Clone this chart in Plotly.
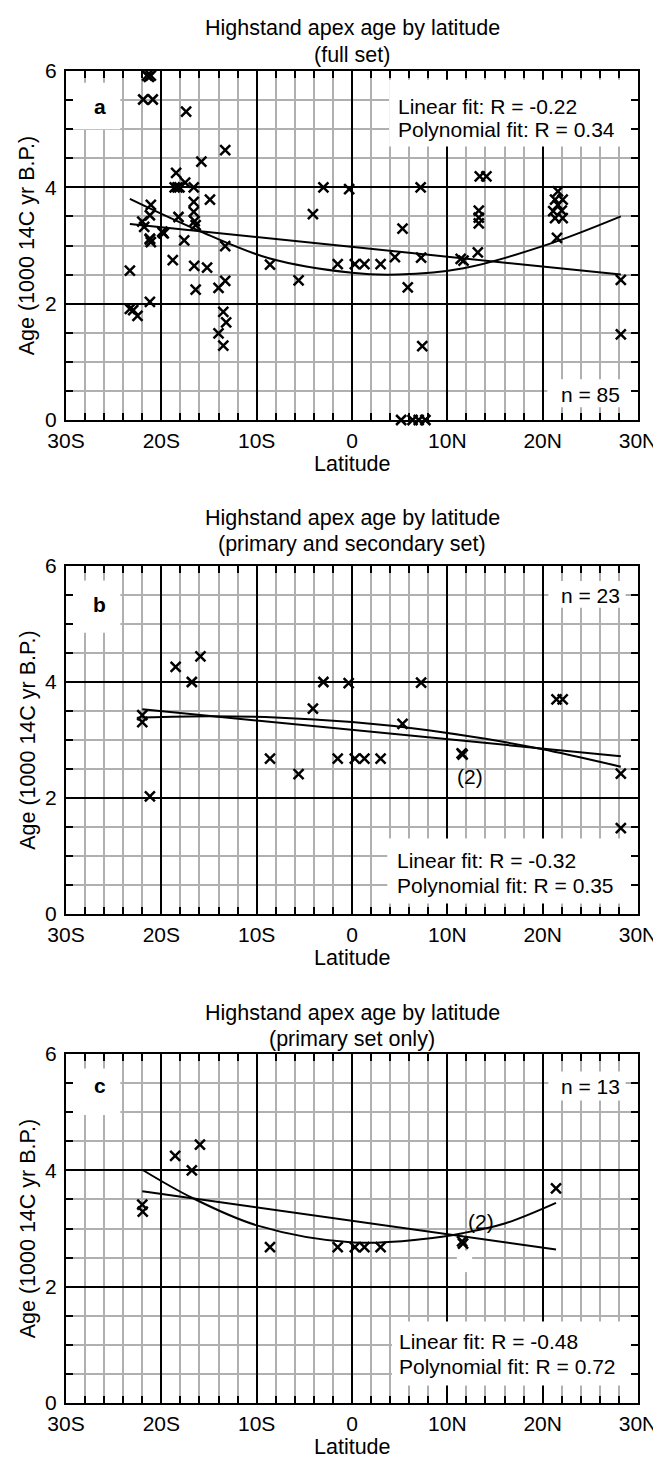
import plotly.graph_objects as go

# ---------------- data ----------------
lat_a = [-21.5, -21.1, -21.3,
         -21.9, -20.9,
         -17.4, -13.3, -15.8, -18.45,
         -18.6, -18.1, -18.3, -17.5, -16.6,
         -14.9,
         -16.6, -16.6, -16.5, -16.4,
         -21.1, -21.2, -22.0, -21.8, -21.2, -21.1, -21.2,
         -19.9, -19.75, -19.85,
         -18.2, -17.6, -13.3, -18.8, -23.3,
         -16.55, -15.2, -16.4, -13.3, -14.0, -21.2,
         -23.3, -22.95, -22.5, -13.5, -13.2, -14.0, -13.5,
         -8.6, -5.6, -4.1, -3.0, -0.3,
         -1.5, 0.3, 1.3, 3.0,
         4.5, 5.3, 5.85, 7.2, 7.25, 7.37,
         5.15, 6.35, 7.0, 7.7,
         11.4, 11.7, 13.2, 13.3, 13.3, 13.3, 13.4, 14.1,
         21.6, 21.3, 22.1, 21.6, 21.1, 22.0, 21.3, 22.1, 21.5,
         28.2, 28.2]
age_a = [5.92, 5.92, 5.90,
         5.51, 5.51,
         5.30, 4.64, 4.44, 4.25,
         4.00, 4.00, 4.00, 4.08, 4.00,
         3.79,
         3.75, 3.58, 3.42, 3.35,
         3.70, 3.52, 3.41, 3.32, 3.12, 3.06, 3.10,
         3.24, 3.21, 3.22,
         3.49, 3.09, 2.99, 2.75, 2.57,
         2.65, 2.62, 2.24, 2.39, 2.27, 2.03,
         1.91, 1.89, 1.79, 1.86, 1.68, 1.49, 1.28,
         2.67, 2.40, 3.54, 4.00, 3.97,
         2.68, 2.68, 2.68, 2.68,
         2.80, 3.29, 2.28, 4.00, 2.79, 1.27,
         0.0, 0.0, 0.0, 0.0,
         2.77, 2.74, 2.88, 3.60, 3.48, 3.38, 4.19, 4.19,
         3.93, 3.79, 3.79, 3.70, 3.59, 3.60, 3.47, 3.47, 3.13,
         2.41, 1.47]

lat_b = [-18.5, -15.9, -16.8, -22.0, -22.0, -21.2, -8.6, -5.6, -4.1, -3.0, -0.35,
         -1.5, 0.3, 1.3, 3.0, 5.3, 7.25, 11.5, 11.6, 21.45, 22.1, 28.2, 28.2]
age_b = [4.26, 4.44, 4.00, 3.43, 3.31, 2.03, 2.68, 2.41, 3.54, 4.00, 3.98,
         2.68, 2.68, 2.68, 2.68, 3.28, 3.99, 2.77, 2.75, 3.70, 3.70, 2.42, 1.48]

lat_c = [-22.0, -21.95, -18.55, -15.95, -16.8, -8.6, -1.5, 0.3, 1.3, 3.0, 11.55, 11.65, 21.4]
age_c = [3.41, 3.29, 4.25, 4.44, 4.00, 2.68, 2.68, 2.68, 2.68, 2.68, 2.78, 2.74, 3.69]

# fitted curves
lin_a_x = [-23.3, 28.2]
lin_a_y = [3.37, 2.50]
poly_a_x = [-23.3, -16.3, -8.7, 0.0, 4.8, 11.7, 20.4, 28.2]
poly_a_y = [3.80, 3.27, 2.78, 2.53, 2.50, 2.61, 3.01, 3.50]

lin_b_x = [-22.0, 28.2]
lin_b_y = [3.53, 2.72]
poly_b_x = [-22.0, -15.0, -8.0, 0.0, 8.0, 14.0, 20.0, 28.2]
poly_b_y = [3.39, 3.41, 3.39, 3.31, 3.17, 3.02, 2.84, 2.54]

lin_c_x = [-22.0, 21.4]
lin_c_y = [3.64, 2.64]
poly_c_x = [-22.0, -16.8, -9.9, 0.1, 7.5, 11.6, 16.1, 21.4]
poly_c_y = [4.01, 3.53, 3.05, 2.76, 2.82, 2.92, 3.09, 3.44]

x_tickvals = [-30, -20, -10, 0, 10, 20, 30]
x_ticktext = ["30S", "20S", "10S", "0", "10N", "20N", "30N"]
y_tickvals = [0, 2, 4, 6]

titles = ["(full set)", "(primary and secondary set)", "(primary set only)"]
panel_letters = ["a", "b", "c"]
n_texts = ["n = 85", "n = 23", "n = 13"]
lin_texts = ["Linear fit: R = -0.22", "Linear fit: R = -0.32", "Linear fit: R = -0.48"]
poly_texts = ["Polynomial fit: R = 0.34", "Polynomial fit: R = 0.35", "Polynomial fit: R = 0.72"]

# ---------------- figure ----------------
W, H = 661, 1459
ML, MR, MT, MB = 58, 19, 63, 64
plot_h = H - MT - MB
FONT = "Liberation Sans, Arial, Helvetica, sans-serif"
FS = 21
FT = 21.5

def py2paper(py):
    return 1 - (py - MT) / plot_h

panels_px = [(63, 412), (558, 906), (1046, 1395)]
title_px = [(20, 47), (510, 536), (1005, 1031)]
xlabel_px = [456, 950, 1439]

fig = go.Figure()

datasets = [(lat_a, age_a, lin_a_x, lin_a_y, poly_a_x, poly_a_y),
            (lat_b, age_b, lin_b_x, lin_b_y, poly_b_x, poly_b_y),
            (lat_c, age_c, lin_c_x, lin_c_y, poly_c_x, poly_c_y)]

for i, (lx, ly, lnx, lny, pqx, pqy) in enumerate(datasets):
    xa = "x" if i == 0 else f"x{i+1}"
    ya = "y" if i == 0 else f"y{i+1}"
    fig.add_trace(go.Scatter(x=lnx, y=lny, mode="lines", xaxis=xa, yaxis=ya,
                             line=dict(color="black", width=2), showlegend=False))
    fig.add_trace(go.Scatter(x=pqx, y=pqy, mode="lines", xaxis=xa, yaxis=ya,
                             line=dict(color="black", width=2, shape="spline", smoothing=1),
                             showlegend=False))
    fig.add_trace(go.Scatter(x=lx, y=ly, mode="markers", xaxis=xa, yaxis=ya,
                             marker=dict(symbol="x-thin", size=10,
                                         line=dict(width=2.5, color="black")),
                             cliponaxis=False, showlegend=False))

layout = dict(width=W, height=H, margin=dict(l=ML, r=MR, t=MT, b=MB),
              paper_bgcolor="white", plot_bgcolor="white",
              font=dict(family=FONT, size=FS, color="black"))

for i in range(3):
    top, bot = panels_px[i]
    xk = "xaxis" if i == 0 else f"xaxis{i+1}"
    yk = "yaxis" if i == 0 else f"yaxis{i+1}"
    xa = "x" if i == 0 else f"x{i+1}"
    ya = "y" if i == 0 else f"y{i+1}"
    layout[xk] = dict(domain=[0, 1], anchor=ya, range=[-30, 30],
                      tickmode="array", tickvals=x_tickvals, ticktext=x_ticktext,
                      ticks="inside", ticklen=7, tickwidth=2, tickcolor="black",
                      showline=True, linecolor="black", linewidth=2, mirror="ticks",
                      showgrid=True, gridcolor="black", gridwidth=2, zeroline=False,
                      tickfont=dict(size=FS, family=FONT, color="black"),
                      ticklabelstandoff=1, ticklabeloverflow="allow",
                      minor=dict(tickmode="linear", tick0=0, dtick=2, showgrid=True,
                                 gridcolor="#b0b0b0", gridwidth=2, ticks="inside",
                                 ticklen=7, tickwidth=2, tickcolor="black"),
                      fixedrange=True)
    layout[yk] = dict(domain=[py2paper(bot), py2paper(top)], anchor=xa, range=[0, 6],
                      tickmode="array", tickvals=y_tickvals,
                      ticks="inside", ticklen=7, tickwidth=2, tickcolor="black",
                      showline=True, linecolor="black", linewidth=2, mirror="ticks",
                      showgrid=True, gridcolor="black", gridwidth=2, zeroline=False,
                      tickfont=dict(size=FS, family=FONT, color="black"),
                      ticklabelstandoff=3, ticklabeloverflow="allow",
                      minor=dict(tickmode="linear", tick0=0, dtick=0.5, showgrid=True,
                                 gridcolor="#b0b0b0", gridwidth=2, ticks="inside",
                                 ticklen=7, tickwidth=2, tickcolor="black"),
                      fixedrange=True)

fig.update_layout(**layout)

annotations = []
shapes = []

def box(xa, ya, x0, x1, y0, y1):
    shapes.append(dict(type="rect", xref=xa, yref=ya, x0=x0, x1=x1, y0=y0, y1=y1,
                       fillcolor="white", line=dict(width=0), layer="between"))

def txt(xa, ya, x, y, s, xanchor="center", bold=False):
    annotations.append(dict(xref=xa, yref=ya, x=x, y=y, text=(f"<b>{s}</b>" if bold else s),
                            showarrow=False, xanchor=xanchor, yanchor="middle",
                            font=dict(size=FS, family=FONT, color="black")))

letter_y = [5.39, 5.34, 5.45]
letter_box = [(5.0, 5.8), (4.85, 5.75), (4.95, 5.75)]
n_pos = [(28.3, 0.44), (28.3, 5.50), (28.3, 5.44)]
n_box = [(20.5, 29.6, 0.22, 0.70), (20.6, 28.7, 5.28, 5.74), (20.6, 28.7, 5.20, 5.70)]
fit_pos = [(4.6, 5.39, 4.99), (4.5, 0.93, 0.50), (4.7, 1.06, 0.63)]
fit_box = [(3.9, 29.6, 4.70, 5.85), (3.7, 29.6, 0.18, 1.30), (4.2, 29.6, 0.30, 1.40)]

for i in range(3):
    xa = "x" if i == 0 else f"x{i+1}"
    ya = "y" if i == 0 else f"y{i+1}"
    box(xa, ya, -29.6, -24.3, *letter_box[i])
    box(xa, ya, n_box[i][0], n_box[i][1], n_box[i][2], n_box[i][3])
    box(xa, ya, fit_box[i][0], fit_box[i][1], fit_box[i][2], fit_box[i][3])
    txt(xa, ya, -26.45, letter_y[i], panel_letters[i], bold=True)
    txt(xa, ya, n_pos[i][0], n_pos[i][1], n_texts[i], xanchor="right")
    txt(xa, ya, fit_pos[i][0], fit_pos[i][1], lin_texts[i], xanchor="left")
    txt(xa, ya, fit_pos[i][0], fit_pos[i][2], poly_texts[i], xanchor="left")

    # titles and axis titles (paper coordinates)
    t1, t2 = title_px[i]
    for s, py in [("Highstand apex age by latitude", t1), (titles[i], t2)]:
        annotations.append(dict(xref="paper", yref="paper", x=0.5, y=py2paper(py), text=s,
                                showarrow=False, xanchor="center", yanchor="middle",
                                font=dict(size=FT, family=FONT, color="black")))
    annotations.append(dict(xref="paper", yref="paper", x=0.5, y=py2paper(xlabel_px[i]),
                            text="Latitude", showarrow=False, xanchor="center",
                            yanchor="middle", font=dict(size=FT, family=FONT, color="black")))
    top, bot = panels_px[i]
    annotations.append(dict(xref="paper", yref="paper", x=(19 - ML) / (W - ML - MR),
                            y=py2paper((top + bot) / 2), text="Age (1000 14C yr B.P.)",
                            textangle=-90, showarrow=False, xanchor="center", yanchor="middle",
                            font=dict(size=FT, family=FONT, color="black")))

# "(2)" labels
txt("x2", "y2", 12.35, 2.37, "(2)")
box("x3", "y3", 11.0, 12.6, 2.25, 2.62)
txt("x3", "y3", 13.55, 3.12, "(2)")

fig.update_layout(annotations=annotations, shapes=shapes)
fig.write_html("out.html")
